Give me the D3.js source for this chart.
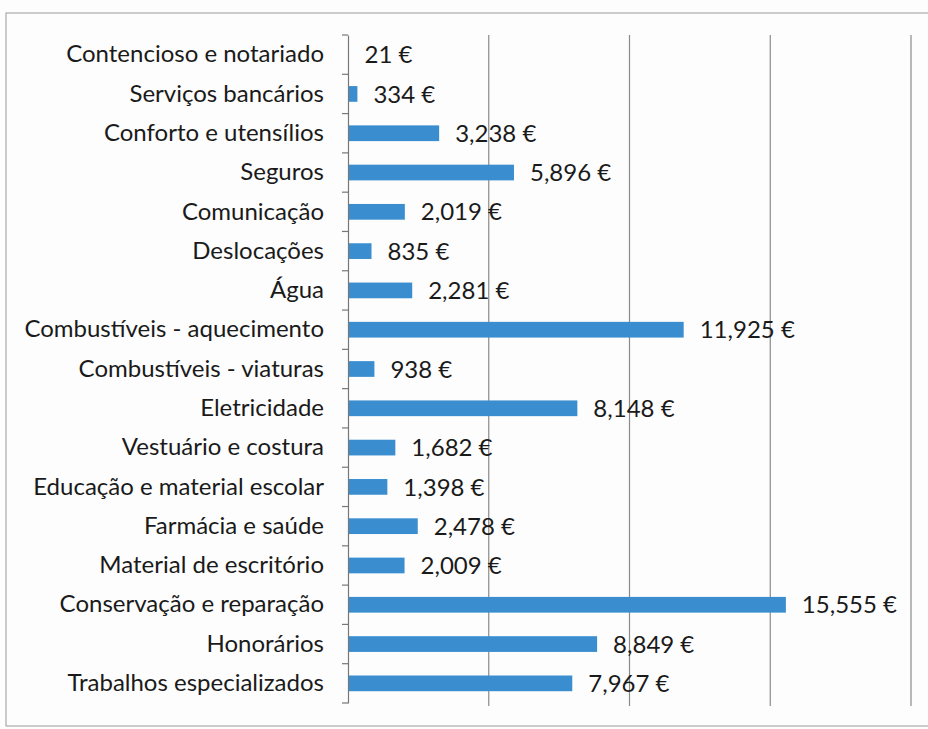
<!DOCTYPE html>
<html>
<head>
<meta charset="utf-8">
<script src="https://cdn.jsdelivr.net/npm/d3@7"></script>
<style>
  body { margin: 0; background: #fdfdfd; }
  text { font-family: "Lato", "Open Sans", sans-serif; fill: #1a1a1a; }
</style>
</head>
<body>
<div id="chart"></div>
<script>
var svgWidth = 928;
var svgHeight = 729;

// categories top to bottom, values in euros
var categories = [
  "Contencioso e notariado",
  "Serviços bancários",
  "Conforto e utensílios",
  "Seguros",
  "Comunicação",
  "Deslocações",
  "Água",
  "Combustíveis - aquecimento",
  "Combustíveis - viaturas",
  "Eletricidade",
  "Vestuário e costura",
  "Educação e material escolar",
  "Farmácia e saúde",
  "Material de escritório",
  "Conservação e reparação",
  "Honorários",
  "Trabalhos especializados"
];
var values = [21, 334, 3238, 5896, 2019, 835, 2281, 11925, 938, 8148, 1682, 1398, 2478, 2009, 15555, 8849, 7967];
var gridTicks = [5000, 10000, 15000, 20000];

var margin = { top: 35, right: 17, bottom: 26, left: 348 };
var width = svgWidth - margin.left - margin.right;
var height = svgHeight - margin.top - margin.bottom;

var svg = d3.select("#chart")
  .append("svg")
  .attr("width", svgWidth)
  .attr("height", svgHeight);

// outer frame of the chart area
svg.append("rect")
  .attr("x", 6).attr("y", 13)
  .attr("width", svgWidth)
  .attr("height", 713)
  .attr("fill", "none")
  .attr("stroke", "#9a9a9a")
  .attr("stroke-width", 1);

var g = svg.append("g")
  .attr("transform", "translate(" + margin.left + "," + margin.top + ")");

var x = d3.scaleLinear().domain([0, 20000]).range([0, width]);
var y = d3.scaleBand().domain(categories).range([0, height]).paddingInner(0.6).paddingOuter(0.3);

// vertical gridlines
g.selectAll(".grid")
  .data(gridTicks)
  .enter()
  .append("line")
  .attr("x1", d => x(d)).attr("x2", d => x(d))
  .attr("y1", 0).attr("y2", height + 3)
  .attr("stroke", "#8a8a8a")
  .attr("stroke-width", 1.2);

g.selectAll(".bar")
  .data(values)
  .enter()
  .append("rect")
  .attr("x", 0)
  .attr("y", (d, i) => y(categories[i]))
  .attr("width", d => x(d))
  .attr("height", y.bandwidth())
  .attr("fill", "#3a8ed0");

g.selectAll(".val")
  .data(values)
  .enter()
  .append("text")
  .attr("x", d => x(d) + 16)
  .attr("y", (d, i) => y(categories[i]) + y.bandwidth() / 2)
  .attr("dy", "0.36em")
  .style("font-size", "24px")
  .text(d => d3.format(",")(d) + " €");

// category axis with ticks between bands
var step = height / categories.length;
var yAxis = d3.axisLeft(y).tickSize(0).tickPadding(24);
var axisG = g.append("g").call(yAxis);
axisG.select(".domain").attr("stroke", "#777").attr("stroke-width", 1.2);
axisG.selectAll("text").style("font-size", "24px").attr("fill", "#1a1a1a");

g.selectAll(".sep")
  .data(d3.range(categories.length + 1))
  .enter()
  .append("line")
  .attr("x1", -6).attr("x2", 0)
  .attr("y1", d => d * step).attr("y2", d => d * step)
  .attr("stroke", "#777")
  .attr("stroke-width", 1.2);
</script>
</body>
</html>
